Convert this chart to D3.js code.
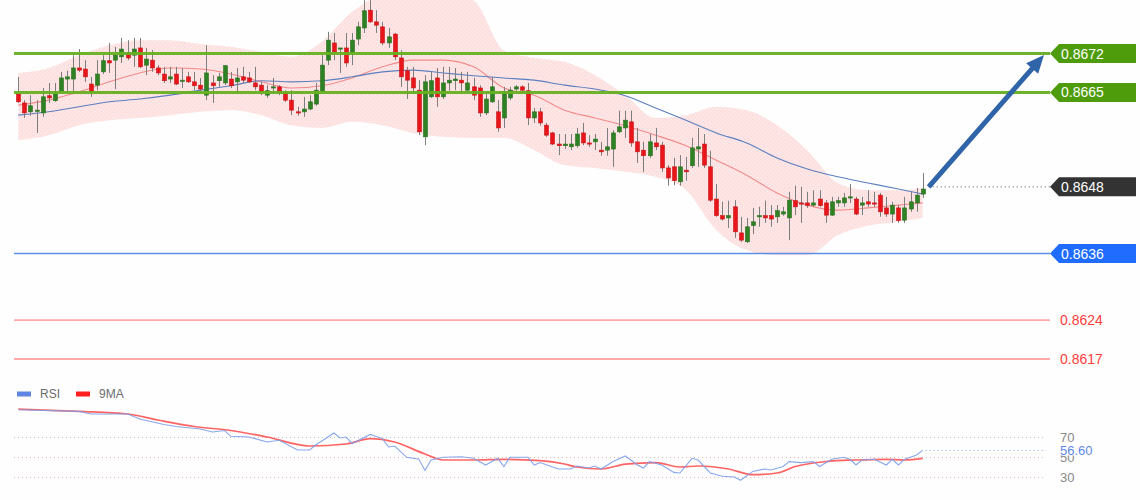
<!DOCTYPE html>
<html><head><meta charset="utf-8">
<script src="https://cdn.jsdelivr.net/npm/d3@7"></script>
<style>html,body{margin:0;padding:0;background:#fff;} svg{display:block;}</style>
</head><body>
<svg id="c" width="1140" height="500"></svg>
<script>
// ---- price candles (one per bar, bar index 1..150) ----
const open = [
0.86647,0.86631,0.86615,0.86617,0.86613,0.86644,0.86635,0.86651,0.86674,0.86674,
0.86694,0.86692,0.86665,0.86663,0.86687,0.86707,0.86708,0.86714,0.86721,0.86717,
0.86730,0.86699,0.86708,0.86694,0.86683,0.86674,0.86683,0.86671,0.86678,0.86669,
0.86663,0.86645,0.86667,0.86671,0.86667,0.86674,0.86669,0.86678,0.86676,0.86667,
0.86663,0.86645,0.86658,0.86660,0.86649,0.86636,0.86615,0.86615,0.86620,0.86629,
0.86651,0.86708,0.86739,0.86728,0.86730,0.86721,0.86746,0.86766,0.86798,0.86777,
0.86768,0.86739,0.86755,0.86712,0.86689,0.86676,0.86654,0.86570,0.86642,0.86676,
0.86642,0.86667,0.86671,0.86672,0.86654,0.86660,0.86658,0.86613,0.86633,0.86615,
0.86604,0.86640,0.86656,0.86660,0.86653,0.86604,0.86615,0.86591,0.86577,0.86557,
0.86554,0.86552,0.86554,0.86577,0.86559,0.86561,0.86546,0.86546,0.86548,0.86579,
0.86586,0.86597,0.86561,0.86546,0.86536,0.86559,0.86555,0.86514,0.86516,0.86489,
0.86510,0.86518,0.86548,0.86557,0.86516,0.86458,0.86428,0.86424,0.86444,0.86397,
0.86381,0.86410,0.86426,0.86428,0.86428,0.86426,0.86431,0.86424,0.86455,0.86451,
0.86451,0.86447,0.86458,0.86451,0.86429,0.86451,0.86451,0.86460,0.86458,0.86447,
0.86453,0.86451,0.86465,0.86442,0.86431,0.86442,0.86420,0.86440,0.86451,0.86467];
const high = [
0.86678,0.86636,0.86645,0.86636,0.86658,0.86667,0.86667,0.86687,0.86689,0.86717,
0.86728,0.86708,0.86678,0.86708,0.86717,0.86739,0.86732,0.86748,0.86744,0.86748,
0.86748,0.86730,0.86726,0.86699,0.86696,0.86696,0.86696,0.86694,0.86687,0.86687,
0.86676,0.86735,0.86681,0.86685,0.86699,0.86687,0.86694,0.86696,0.86687,0.86696,
0.86669,0.86663,0.86676,0.86663,0.86654,0.86654,0.86624,0.86642,0.86645,0.86667,
0.86717,0.86759,0.86757,0.86730,0.86757,0.86757,0.86777,0.86816,0.86816,0.86798,
0.86777,0.86766,0.86757,0.86726,0.86696,0.86696,0.86672,0.86681,0.86687,0.86694,
0.86696,0.86696,0.86694,0.86687,0.86687,0.86676,0.86663,0.86649,0.86678,0.86636,
0.86660,0.86660,0.86663,0.86663,0.86667,0.86622,0.86622,0.86595,0.86579,0.86575,
0.86575,0.86575,0.86586,0.86595,0.86573,0.86575,0.86561,0.86586,0.86582,0.86617,
0.86617,0.86617,0.86586,0.86561,0.86575,0.86586,0.86561,0.86519,0.86532,0.86537,
0.86534,0.86568,0.86586,0.86575,0.86545,0.86485,0.86453,0.86455,0.86456,0.86426,
0.86424,0.86442,0.86444,0.86455,0.86447,0.86447,0.86444,0.86471,0.86482,0.86480,
0.86471,0.86474,0.86474,0.86456,0.86462,0.86462,0.86469,0.86485,0.86462,0.86462,
0.86474,0.86471,0.86469,0.86462,0.86453,0.86447,0.86462,0.86471,0.86478,0.86505];
const low = [
0.86631,0.86604,0.86608,0.86577,0.86606,0.86631,0.86633,0.86649,0.86651,0.86651,
0.86687,0.86669,0.86642,0.86654,0.86683,0.86685,0.86656,0.86703,0.86708,0.86696,
0.86694,0.86681,0.86687,0.86681,0.86667,0.86667,0.86663,0.86658,0.86667,0.86654,
0.86649,0.86636,0.86631,0.86660,0.86663,0.86658,0.86651,0.86667,0.86667,0.86654,
0.86645,0.86640,0.86649,0.86645,0.86633,0.86609,0.86608,0.86606,0.86618,0.86626,
0.86649,0.86699,0.86708,0.86685,0.86696,0.86699,0.86735,0.86757,0.86775,0.86757,
0.86735,0.86730,0.86708,0.86660,0.86638,0.86649,0.86573,0.86555,0.86640,0.86624,
0.86638,0.86653,0.86654,0.86651,0.86649,0.86636,0.86606,0.86609,0.86631,0.86579,
0.86586,0.86636,0.86653,0.86651,0.86591,0.86595,0.86590,0.86570,0.86555,0.86537,
0.86548,0.86546,0.86550,0.86555,0.86552,0.86546,0.86536,0.86536,0.86516,0.86577,
0.86568,0.86552,0.86523,0.86507,0.86532,0.86546,0.86507,0.86482,0.86483,0.86482,
0.86491,0.86514,0.86516,0.86514,0.86453,0.86426,0.86419,0.86406,0.86388,0.86381,
0.86379,0.86395,0.86408,0.86415,0.86408,0.86415,0.86428,0.86384,0.86429,0.86415,
0.86442,0.86444,0.86444,0.86415,0.86428,0.86444,0.86444,0.86451,0.86429,0.86429,
0.86444,0.86444,0.86426,0.86426,0.86415,0.86415,0.86415,0.86435,0.86435,0.86460];
const close = [
0.86633,0.86613,0.86626,0.86618,0.86642,0.86640,0.86647,0.86676,0.86678,0.86694,
0.86690,0.86678,0.86651,0.86683,0.86707,0.86703,0.86717,0.86728,0.86712,0.86728,
0.86696,0.86710,0.86694,0.86685,0.86671,0.86678,0.86665,0.86672,0.86669,0.86662,
0.86656,0.86685,0.86662,0.86678,0.86698,0.86662,0.86676,0.86672,0.86669,0.86660,
0.86651,0.86653,0.86660,0.86649,0.86636,0.86618,0.86613,0.86620,0.86633,0.86654,
0.86699,0.86744,0.86723,0.86730,0.86703,0.86744,0.86768,0.86797,0.86777,0.86771,
0.86739,0.86750,0.86714,0.86678,0.86672,0.86658,0.86579,0.86669,0.86671,0.86642,
0.86667,0.86672,0.86674,0.86667,0.86667,0.86645,0.86613,0.86638,0.86660,0.86586,
0.86651,0.86654,0.86660,0.86654,0.86604,0.86615,0.86595,0.86573,0.86557,0.86554,
0.86557,0.86557,0.86575,0.86559,0.86557,0.86566,0.86543,0.86552,0.86577,0.86588,
0.86600,0.86559,0.86543,0.86536,0.86561,0.86552,0.86514,0.86496,0.86491,0.86516,
0.86507,0.86550,0.86552,0.86519,0.86456,0.86428,0.86422,0.86428,0.86399,0.86384,
0.86408,0.86417,0.86428,0.86424,0.86422,0.86437,0.86435,0.86456,0.86444,0.86449,
0.86446,0.86451,0.86446,0.86429,0.86453,0.86455,0.86460,0.86462,0.86431,0.86451,
0.86449,0.86449,0.86435,0.86431,0.86447,0.86419,0.86442,0.86453,0.86465,0.86476];

// ---- overlays, read every 5 bars ----
const bandIdx   = [1,6,11,16,21,26,31,36,41,46,51,56,61,66,71,76,81,86,91,96,101,106,111,116,121,126,131,136,141,146,150];
const bandUpper = [0.86685,0.86694,0.86717,0.86735,0.86744,0.86744,0.86737,0.86732,0.86723,0.86714,0.86741,0.86795,0.86825,0.86831,0.86831,0.86816,0.86726,0.86712,0.86705,0.86681,0.86645,0.86604,0.86609,0.86624,0.86618,0.86591,0.86546,0.86487,0.86474,0.86474,0.86478];
const bandLower = [0.86564,0.86573,0.86591,0.86600,0.86604,0.86609,0.86615,0.86618,0.86609,0.86591,0.86586,0.86597,0.86591,0.86577,0.86570,0.86568,0.86568,0.86546,0.86519,0.86514,0.86507,0.86498,0.86474,0.86402,0.86366,0.86357,0.86357,0.86393,0.86410,0.86417,0.86424];
const maFast    = [0.86627,0.86636,0.86651,0.86669,0.86685,0.86694,0.86692,0.86683,0.86669,0.86658,0.86662,0.86676,0.86696,0.86708,0.86708,0.86696,0.86658,0.86645,0.86618,0.86604,0.86590,0.86573,0.86554,0.86528,0.86501,0.86469,0.86447,0.86438,0.86442,0.86447,0.86451];
const maSlow    = [0.86609,0.86615,0.86624,0.86633,0.86638,0.86645,0.86654,0.86662,0.86671,0.86669,0.86671,0.86678,0.86687,0.86690,0.86685,0.86680,0.86676,0.86672,0.86663,0.86656,0.86644,0.86622,0.86600,0.86577,0.86559,0.86532,0.86512,0.86498,0.86487,0.86476,0.86467];

// ---- levels ----
const levels      = [0.8672, 0.8665, 0.8648, 0.8636, 0.8624, 0.8617];
const levelLabels = ["0.8672","0.8665","0.8648","0.8636","0.8624","0.8617"];
const levelKinds  = ["res","res","last","sup","sup2","sup2"];

// ---- RSI panel ----
const rsiIdx = [1,11,13,19,21,25,27,31,33,35,36,39,42,44,47,49,50,53,54,55,56,59,61,62,63,65,67,68,69,71,74,76,78,80,81,82,85,86,87,89,90,92,93,95,96,97,99,101,103,104,105,107,109,110,112,113,115,117,119,120,122,124,125,127,128,130,132,133,135,137,138,139,140,142,144,145,146,147,149,150];
const rsiVal = [97.2,95.6,93,93,88,82.5,80.5,78,75,76.5,70.7,70,65,66.7,57,57,62,74,69,70,63.5,72.6,68.4,60,61,49.7,47.7,36.6,47,49.7,50.3,48.7,42,48.7,40.5,49.7,49.7,42,44.4,40,38,38,41,39,41,38,45.4,51,42,39,45.4,42,34.6,34,48.7,47,34,30.7,30,26.7,35.6,38,37,40.5,45.4,44.4,45.4,40.5,47.7,49.7,47.7,42,47,47.7,42,47.7,42,47.7,52,56.6];
const maRsiIdx = [1,11,19,24,30,36,42,49,55,59,63,68,71,76,81,87,91,93,97,101,106,110,113,118,122,126,129,134,139,144,147,150];
const maRsiVal = [97.9,95.6,93,87,80.5,76.5,70,61,63,68.4,65,53,47,47,47.7,46.4,43,40,38,42.8,44.4,40,41,38,32.3,34,40.5,45.4,47,47.7,47,48.7];
const rsiTicks = [70, 50, 30];
const rsiLastLabel = "56.60";
const legendItems = ["RSI", "9MA"];

// ================= drawing =================
const FONT = "'Liberation Sans', Arial, Helvetica, sans-serif";
const svg = d3.select("#c");
const N = open.length;
const x = d3.scaleLinear().domain([1, N]).range([18.3, 922.7]);
const y = d3.scaleLinear().domain([0.8617, 0.8672]).range([359, 53.5]);
const yr = d3.scaleLinear().domain([30, 70]).range([477, 437]);
const lineStart = 14, lineEnd = 1050, boxRight = 1136;

svg.append("rect").attr("width",1140).attr("height",500).attr("fill","#fefefe");

const defs = svg.append("defs");
const pat = defs.append("pattern").attr("id","dots").attr("width",4).attr("height",4).attr("patternUnits","userSpaceOnUse");
pat.append("rect").attr("width",4).attr("height",4).attr("fill","#fde1e1");
pat.append("rect").attr("x",1).attr("y",1).attr("width",1).attr("height",1).attr("fill","#ffffff").attr("opacity",0.75);
pat.append("rect").attr("x",3).attr("y",3).attr("width",1).attr("height",1).attr("fill","#ffffff").attr("opacity",0.5);

const band = bandIdx.map((b,i)=>({b, u:bandUpper[i], l:bandLower[i], f:maFast[i], s:maSlow[i]}));

// Bollinger band
svg.append("path").datum(band)
  .attr("d", d3.area().curve(d3.curveMonotoneX).x(d=>x(d.b)).y0(d=>y(d.l)).y1(d=>y(d.u)))
  .attr("fill","url(#dots)");

// moving averages
svg.append("path").datum(band)
  .attr("d", d3.line().curve(d3.curveMonotoneX).x(d=>x(d.b)).y(d=>y(d.f)))
  .attr("fill","none").attr("stroke","#f28a8a").attr("stroke-width",1.1);
svg.append("path").datum(band)
  .attr("d", d3.line().curve(d3.curveMonotoneX).x(d=>x(d.b)).y(d=>y(d.s)))
  .attr("fill","none").attr("stroke","#5b7fc0").attr("stroke-width",1.1);

// candles
const bars = d3.range(N);
const cg = svg.append("g");
cg.selectAll("line.w").data(bars).join("line")
  .attr("x1", i=>Math.round(x(i+1))+0.5).attr("x2", i=>Math.round(x(i+1))+0.5)
  .attr("y1", i=>y(high[i])).attr("y2", i=>y(low[i]))
  .attr("stroke","#7d7d7d").attr("stroke-width",1);
cg.selectAll("rect.b").data(bars).join("rect")
  .attr("x", i=>Math.round(x(i+1))-1.5)
  .attr("width", 4)
  .attr("y", i=>y(Math.max(open[i],close[i])))
  .attr("height", i=>Math.max(1.2, Math.abs(y(open[i])-y(close[i]))))
  .attr("fill", i=> close[i]>=open[i] ? "#2f8224" : "#e8161b")
  .attr("stroke", i=> close[i]>=open[i] ? "#27701d" : "#c81418")
  .attr("stroke-width",0.6);

// level lines + labels
const lastX = x(N) + 6;
levels.forEach((v,i)=>{
  const k = levelKinds[i], yy = y(v);
  if (k==="res") {
    svg.append("line").attr("x1",lineStart).attr("x2",lineEnd).attr("y1",yy).attr("y2",yy)
      .attr("stroke","#68b022").attr("stroke-width",3).attr("opacity",0.95);
  } else if (k==="last") {
    svg.append("line").attr("x1",lastX).attr("x2",lineEnd).attr("y1",yy).attr("y2",yy)
      .attr("stroke","#555").attr("stroke-width",1).attr("stroke-dasharray","1,3");
  } else if (k==="sup") {
    svg.append("line").attr("x1",lineStart).attr("x2",lineEnd).attr("y1",yy).attr("y2",yy)
      .attr("stroke","#5d8fe6").attr("stroke-width",1.6);
  } else {
    svg.append("line").attr("x1",lineStart).attr("x2",lineEnd).attr("y1",yy).attr("y2",yy)
      .attr("stroke","#ffa9a9").attr("stroke-width",1.8);
  }
  if (k==="sup2") {
    svg.append("text").attr("x",1060).attr("y",yy).attr("dy","0.35em")
      .attr("font-family",FONT).attr("font-size",14).attr("fill","#ff3d3d").text(levelLabels[i]);
  } else {
    const fill = k==="res" ? "#4e9c0c" : (k==="last" ? "#333333" : "#1f6cff");
    const h = 9.5;
    svg.append("path")
      .attr("d", `M${lineEnd},${yy} L${lineEnd+9},${yy-h} L${boxRight},${yy-h} L${boxRight},${yy+h} L${lineEnd+9},${yy+h} Z`)
      .attr("fill", fill);
    svg.append("text").attr("x",1061).attr("y",yy).attr("dy","0.36em")
      .attr("font-family",FONT).attr("font-size",14).attr("fill","#ffffff").text(levelLabels[i]);
  }
});

// forecast arrow
(function(){
  const x0 = x(N)+6, y0 = y(levels[2]);
  const x1 = 1044, y1 = y(levels[0]) + 1.5;
  const dx = x1-x0, dy = y1-y0, L = Math.hypot(dx,dy), ux = dx/L, uy = dy/L;
  const hl = 18, hw = 8;
  const bx = x1-ux*hl, by = y1-uy*hl;
  svg.append("line").attr("x1",x0).attr("y1",y0).attr("x2",bx+ux*2).attr("y2",by+uy*2)
    .attr("stroke","#3064a8").attr("stroke-width",5);
  svg.append("path").attr("d",`M${x1},${y1} L${bx-uy*hw},${by+ux*hw} L${bx+uy*hw},${by-ux*hw} Z`)
    .attr("fill","#3064a8");
})();

// ================= RSI panel =================
rsiTicks.forEach(t=>{
  svg.append("line").attr("x1",lineStart).attr("x2",1046).attr("y1",yr(t)+0.5).attr("y2",yr(t)+0.5)
    .attr("stroke", t===70 ? "#b9bccb" : "#e2b5b8").attr("stroke-width",1).attr("stroke-dasharray","1,3");
  svg.append("text").attr("x",1060).attr("y",yr(t)).attr("dy","0.36em")
    .attr("font-family",FONT).attr("font-size",13).attr("fill","#8a8a8a").text(t);
});

const rsiPts = rsiIdx.map((b,i)=>({b, v:rsiVal[i]}));
const maPts = maRsiIdx.map((b,i)=>({b, v:maRsiVal[i]}));
svg.append("path").datum(maPts)
  .attr("d", d3.line().curve(d3.curveMonotoneX).x(d=>x(d.b)).y(d=>yr(d.v)))
  .attr("fill","none").attr("stroke","#ff3030").attr("stroke-width",1.7).attr("opacity",0.75);
svg.append("path").datum(rsiPts)
  .attr("d", d3.line().x(d=>x(d.b)).y(d=>yr(d.v)))
  .attr("fill","none").attr("stroke","#7c9fea").attr("stroke-width",1.1).attr("opacity",0.9);

const lastR = rsiVal[rsiVal.length-1];
svg.append("line").attr("x1",x(N)+3).attr("x2",1046).attr("y1",yr(lastR)).attr("y2",yr(lastR))
  .attr("stroke","#7c9fea").attr("stroke-width",1).attr("stroke-dasharray","1,3");
svg.append("rect").attr("x",1056).attr("y",yr(lastR)-8).attr("width",46).attr("height",13).attr("fill","#fefefe");
svg.append("text").attr("x",1060).attr("y",yr(lastR)).attr("dy","0.36em")
  .attr("font-family",FONT).attr("font-size",13).attr("fill","#5e88e6").text(rsiLastLabel);

// legend
const lg = svg.append("g");
const legendColors = ["#5f86e0", "#ff1f1f"];
const legendX = [17, 76];
legendItems.forEach((t,i)=>{
  lg.append("rect").attr("x",legendX[i]).attr("y",391.5).attr("width",14).attr("height",5).attr("fill",legendColors[i]);
  lg.append("text").attr("x",legendX[i]+23).attr("y",394).attr("dy","0.36em")
    .attr("font-family",FONT).attr("font-size",12).attr("fill","#6d6d6d").text(t);
});
</script>
</body></html>
